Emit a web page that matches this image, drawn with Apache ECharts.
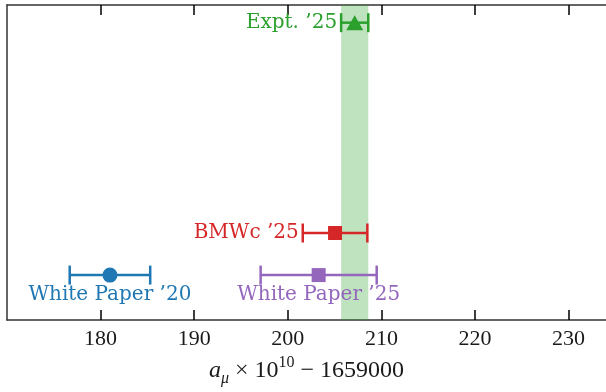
<!DOCTYPE html>
<html>
<head>
<meta charset="utf-8">
<script src="https://cdn.jsdelivr.net/npm/echarts@6/dist/echarts.min.js"></script>
<style>html,body{margin:0;padding:0;background:#fff;}#c{width:606px;height:392px;}</style>
</head>
<body>
<div id="c"></div>
<script>
// ---- data ----
const names = ['White Paper \u201920', 'BMWc \u201925', 'White Paper \u201925', 'Expt. \u201925'];
const centers = [181.0, 205.05, 203.3, 207.15];
const errors = [4.3, 3.45, 6.2, 1.45];
const rows = [0, 1, 0, 6];
const xTicks = [180, 190, 200, 210, 220, 230];
const bandIndex = 3; // experiment band

// ---- styles ----
const colors = ['#1f77b4', '#d62728', '#9467bd', '#2ca02c'];
const symbols = ['circle', 'rect', 'rect', 'triangle'];
const labelSide = ['below', 'left', 'below', 'left'];
const labelFont = 'DejaVu Serif';
const tickFont = 'Liberation Serif';
const spine = '#333333';

const chart = echarts.init(document.getElementById('c'), null, {renderer: 'canvas'});

const errData = names.map((n, i) => [centers[i], errors[i], rows[i]]);
const markData = names.map((n, i) => ({
  value: [centers[i], rows[i]],
  symbol: symbols[i],
  symbolSize: symbols[i] === 'triangle' ? [17, 15] : (symbols[i] === 'rect' ? 14 : 15),
  itemStyle: {color: colors[i], opacity: 1}
}));

const option = {
  animation: false,
  backgroundColor: '#fff',
  grid: {left: 7, top: 5, width: 607, height: 328, containLabel: false},
  xAxis: [{
    type: 'value', min: 170, max: 234, interval: 10, position: 'bottom',
    axisLine: {show: true, onZero: false, lineStyle: {color: spine, width: 1.5}},
    axisTick: {show: true, inside: true, length: 10, customValues: xTicks, lineStyle: {color: '#000', width: 1.5}},
    axisLabel: {show: true, customValues: xTicks, margin: 8, color: '#1a1a1a', fontFamily: tickFont, fontSize: 22},
    splitLine: {show: false},
    name: '{a|a}{s|\u03bc}{t| \u00d7 10}{p|10}{t| \u2212 1659000}',
    nameLocation: 'middle', nameGap: 31,
    nameTextStyle: {
      rich: {
        a: {fontFamily: tickFont, fontStyle: 'italic', fontSize: 24, color: '#1a1a1a', lineHeight: 32, verticalAlign: 'middle'},
        s: {fontFamily: tickFont, fontStyle: 'italic', fontSize: 16, color: '#1a1a1a', lineHeight: 32, verticalAlign: 'bottom'},
        t: {fontFamily: tickFont, fontSize: 24, color: '#1a1a1a', lineHeight: 32, verticalAlign: 'middle'},
        p: {fontFamily: tickFont, fontSize: 16, color: '#1a1a1a', lineHeight: 32, verticalAlign: 'top'}
      }
    }
  }, {
    type: 'value', min: 170, max: 234, interval: 10, position: 'top',
    axisLine: {show: true, onZero: false, lineStyle: {color: spine, width: 1.5}},
    axisTick: {show: true, inside: true, length: 10, customValues: xTicks, lineStyle: {color: '#000', width: 1.5}},
    axisLabel: {show: false},
    splitLine: {show: false}
  }],
  yAxis: {
    type: 'value', min: -1.07, max: 6.42,
    axisLine: {show: true, onZero: false, lineStyle: {color: spine, width: 1.5}},
    axisTick: {show: false}, axisLabel: {show: false}, splitLine: {show: false}
  },
  series: [{
    type: 'custom', z: 1, silent: true,
    data: [[centers[bandIndex] - errors[bandIndex], centers[bandIndex] + errors[bandIndex]]],
    renderItem: function (params, api) {
      const lo = api.coord([api.value(0), 0])[0];
      const hi = api.coord([api.value(1), 0])[0];
      const cs = params.coordSys;
      return {type: 'rect', shape: {x: lo, y: cs.y, width: hi - lo, height: cs.height},
        style: {fill: 'rgba(44,160,44,0.3)'}};
    }
  }, {
    type: 'custom', z: 3, silent: true,
    data: errData,
    renderItem: function (params, api) {
      const i = params.dataIndex;
      const c = api.value(0), e = api.value(1), y = api.value(2);
      const pL = api.coord([c - e, y]);
      const pR = api.coord([c + e, y]);
      const pC = api.coord([c, y]);
      const col = colors[i];
      const cap = 9.5;
      const ls = {stroke: col, lineWidth: 2.5};
      const children = [
        {type: 'line', shape: {x1: pL[0], y1: pL[1], x2: pR[0], y2: pR[1]}, style: ls},
        {type: 'line', shape: {x1: pL[0], y1: pL[1] - cap, x2: pL[0], y2: pL[1] + cap}, style: ls},
        {type: 'line', shape: {x1: pR[0], y1: pR[1] - cap, x2: pR[0], y2: pR[1] + cap}, style: ls}
      ];
      const txt = labelSide[i] === 'left'
        ? {x: pL[0] - 4, y: pL[1], align: 'right', verticalAlign: 'middle'}
        : {x: pC[0], y: pC[1] + 20, align: 'center', verticalAlign: 'middle'};
      children.push({type: 'text', x: txt.x, y: txt.y,
        style: {text: names[i], fill: col, font: '20px "' + labelFont + '"', align: txt.align, verticalAlign: txt.verticalAlign}});
      return {type: 'group', children: children};
    }
  }, {
    type: 'scatter', z: 4, silent: true,
    data: markData
  }]
};
chart.setOption(option);
</script>
</body>
</html>
